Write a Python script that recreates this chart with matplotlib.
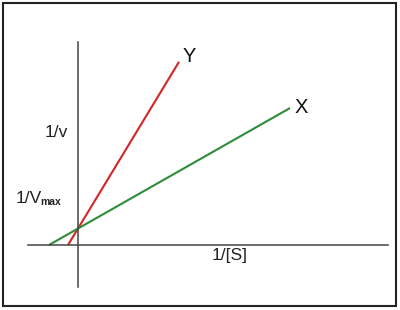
import matplotlib
matplotlib.use("Agg")
import matplotlib.pyplot as plt
from matplotlib.patches import Rectangle

# Lineweaver-Burk plot data (arbitrary units)
line_labels = ["Y", "X"]
y_line_x = [-1.0, 10.1]
y_line_y = [0.0, 11.1]
x_line_x = [-2.9, 21.2]
x_line_y = [0.0, 8.3]

plt.rcParams['font.family'] = ['Liberation Sans', 'DejaVu Sans']

fig = plt.figure(figsize=(4.0, 3.1), dpi=100)
ax = fig.add_axes([0, 0, 1, 1])
ax.set_xlim(-7.8, 32.2)
ax.set_ylim(-3.939, 14.848)

# axes through origin
for side in ("top", "right"):
    ax.spines[side].set_visible(False)
ax.spines["left"].set_position(("data", 0))
ax.spines["bottom"].set_position(("data", 0))
ax.spines["left"].set_bounds(-2.55, 12.3)
ax.spines["bottom"].set_bounds(-5.0, 31.0)
for side in ("left", "bottom"):
    ax.spines[side].set_color("#444444")
    ax.spines[side].set_linewidth(1.1)
ax.set_xticks([])
ax.set_yticks([])
ax.patch.set_alpha(0)

ax.plot(y_line_x, y_line_y, color="#d62424", lw=1.5, solid_capstyle="butt")
ax.plot(x_line_x, x_line_y, color="#2e8b3a", lw=1.5, solid_capstyle="butt")

ax.text(11.1, 11.45, line_labels[0], fontsize=14.5, ha="center", va="center", color="#111111")
ax.text(22.35, 8.33, line_labels[1], fontsize=14.5, ha="center", va="center", color="#111111")

ax.text(-3.3, 6.55, "1/v", fontsize=12.5, ha="left", va="baseline", color="#222222")
ax.text(-6.2, 2.52, "1/V", fontsize=12.5, ha="left", va="baseline", color="#222222")
ax.text(-3.75, 2.45, "max", fontsize=7.5, fontweight="bold", ha="left", va="baseline", color="#222222")
ax.text(13.4, -0.91, "1/[S]", fontsize=12.5, ha="left", va="baseline", color="#222222")

# outer border
fig.patches.append(Rectangle((3/400, 4/310), 393/400, 303/310, transform=fig.transFigure,
                             fill=False, edgecolor="#222222", linewidth=1.5))

fig.savefig("out.png", dpi=100)
